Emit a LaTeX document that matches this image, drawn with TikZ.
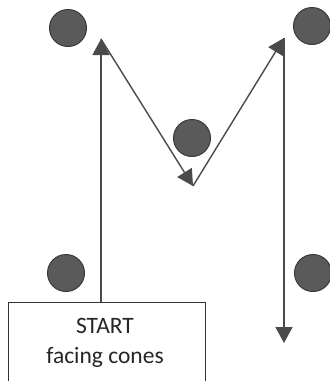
\documentclass[tikz,border=0pt]{standalone}
\usepackage{fontspec}
\setmainfont{Carlito}
\usetikzlibrary{arrows.meta}
\definecolor{conefill}{HTML}{5A5A5A}
\definecolor{coneline}{HTML}{3A3A3A}
\definecolor{arrowcol}{HTML}{4A4A4A}
\begin{document}
\begin{tikzpicture}[x=1pt,y=-1pt,
  cone/.style={circle, fill=conefill, draw=coneline, line width=1pt, minimum size=37pt, inner sep=0pt},
  path/.style={draw=arrowcol, line width=1.4pt, -{Triangle[length=16pt,width=17pt]}},
  startbox/.style={draw=black!80, line width=0.9pt, minimum width=197pt, minimum height=80pt, inner sep=0pt, anchor=north west},
  lbl/.style={font=\fontsize{23.5}{30}\selectfont, anchor=base, inner sep=0pt, text=black!85}]
\useasboundingbox (0,0) rectangle (330,381);
\fill[white] (0,0) rectangle (330,381);
% cones
\node[cone] (c1) at (68,28) {};
\node[cone] (c2) at (312,26) {};
\node[cone] (c3) at (192,138) {};
\node[cone] (c4) at (66,273) {};
\node[cone] (c5) at (313,273) {};
% start box
\node[startbox] (box) at (8,302) {};
\node[lbl] (t1) at (105,333) {START};
\node[lbl] (t2) at (105,363) {facing cones};
% route
\coordinate (p0) at (101,302);
\coordinate (p1) at (101,39);
\coordinate (p2) at (193,186);
\coordinate (p3) at (284,38);
\coordinate (p4) at (284,343);
\draw[path] (p0) -- (p1);
\draw[path] (p1) -- (p2);
\draw[path] (p2) -- (p3);
\draw[path] (p3) -- (p4);
\end{tikzpicture}
\end{document}
